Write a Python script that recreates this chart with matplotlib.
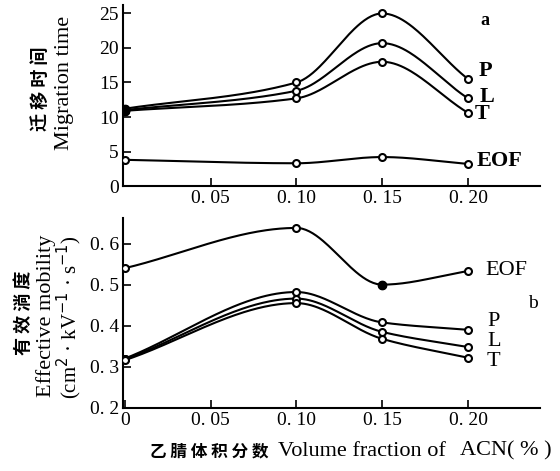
import matplotlib.pyplot as plt
import numpy as np

plt.rcParams['font.family'] = ['Liberation Serif', 'Noto Sans CJK SC', 'DejaVu Serif']

# ACN volume fraction
acn = [0.0, 0.10, 0.15, 0.20]

# (a) migration time
time_P = [11.2, 15.0, 25.0, 15.5]
time_L = [11.0, 13.8, 20.7, 12.7]
time_T = [10.9, 12.7, 18.0, 10.6]
time_EOF = [3.8, 3.3, 4.2, 3.2]

# (b) effective mobility
mob_EOF = [0.54, 0.638, 0.50, 0.533]
mob_P = [0.32, 0.482, 0.408, 0.39]
mob_L = [0.318, 0.466, 0.385, 0.348]
mob_T = [0.316, 0.455, 0.368, 0.322]

top_xticks = [0.05, 0.10, 0.15, 0.20]
top_xlabels = ['0. 05', '0. 10', '0. 15', '0. 20']
top_yticks = [0, 5, 10, 15, 20, 25]
bot_xticks = [0, 0.05, 0.10, 0.15, 0.20]
bot_xlabels = ['0', '0. 05', '0. 10', '0. 15', '0. 20']
bot_yticks = [0.2, 0.3, 0.4, 0.5, 0.6]
bot_ylabels = ['0. 2', '0. 3', '0. 4', '0. 5', '0. 6']


def pchip(x, y, n=200):
    # shape preserving cubic through the points, only for drawing the smooth line
    x = np.asarray(x, float)
    y = np.asarray(y, float)
    h = np.diff(x)
    d = np.diff(y) / h
    m = np.zeros_like(y)
    for k in range(1, len(x) - 1):
        if d[k - 1] * d[k] > 0:
            w1 = 2 * h[k] + h[k - 1]
            w2 = h[k] + 2 * h[k - 1]
            m[k] = (w1 + w2) / (w1 / d[k - 1] + w2 / d[k])
    m[0] = d[0]
    m[-1] = d[-1]
    xs = np.linspace(x[0], x[-1], n)
    ys = np.empty_like(xs)
    for i, xv in enumerate(xs):
        k = min(np.searchsorted(x, xv, side='right') - 1, len(x) - 2)
        t = (xv - x[k]) / h[k]
        h00 = 2 * t**3 - 3 * t**2 + 1
        h10 = t**3 - 2 * t**2 + t
        h01 = -2 * t**3 + 3 * t**2
        h11 = t**3 - t**2
        ys[i] = h00 * y[k] + h10 * h[k] * m[k] + h01 * y[k + 1] + h11 * h[k] * m[k + 1]
    return xs, ys


fig = plt.figure(figsize=(5.6, 4.71), dpi=100)
ax1 = fig.add_axes([0.2196, 0.605, 0.745, 0.384])
ax2 = fig.add_axes([0.2196, 0.134, 0.745, 0.403])

mk = dict(marker='o', ms=5, mfc='white', mec='black', mew=1.5, ls='none', zorder=3)

def draw(ax, y, filled=()):
    xs, ys = pchip(acn, y)
    ax.plot(xs, ys, color='black', lw=1.5, zorder=2)
    ax.plot(acn, y, **mk)
    for i in filled:
        ax.plot(acn[i], y[i], marker='o', ms=6, color='black', ls='none', zorder=4)

for s in (time_P, time_L, time_T):
    draw(ax1, s, filled=(0,))
draw(ax1, time_EOF)

draw(ax2, mob_EOF, filled=(2,))
draw(ax2, mob_P)
draw(ax2, mob_L)
draw(ax2, mob_T)

for ax in (ax1, ax2):
    ax.spines['top'].set_visible(False)
    ax.spines['right'].set_visible(False)
    ax.spines['left'].set_linewidth(1.5)
    ax.spines['bottom'].set_linewidth(1.5)
    ax.tick_params(direction='in', length=6, width=1.2, labelsize=14, pad=3)
    ax.set_xlim(-0.001, 0.242)

ax1.set_ylim(0, 26.2)
ax1.set_xticks(top_xticks)
ax1.set_xticklabels(top_xlabels)
ax1.set_yticks(top_yticks)

ax2.set_ylim(0.2, 0.662)
ax2.set_xticks(bot_xticks)
ax2.set_xticklabels(bot_xlabels)
ax2.set_yticks(bot_yticks)
ax2.set_yticklabels(bot_ylabels)

# series labels
lab = dict(fontsize=16, fontweight='bold', va='center', ha='left')
ax1.text(0.206, 16.6, 'P', **lab)
ax1.text(0.207, 12.9, 'L', **lab)
ax1.text(0.204, 10.4, 'T', **lab)
ax1.text(0.205, 3.6, 'EOF', **lab)
ax1.text(0.207, 24.0, 'a', fontsize=13, fontweight='bold', ha='left', va='center')

lab2 = dict(fontsize=16, va='center', ha='left')
ax2.text(0.210, 0.535, 'EOF', **lab2)
ax2.text(0.211, 0.41, 'P', **lab2)
ax2.text(0.211, 0.362, 'L', **lab2)
ax2.text(0.211, 0.312, 'T', **lab2)
ax2.text(0.235, 0.455, 'b', fontsize=14, ha='left', va='center')

# y labels
cjk = ['Noto Sans CJK SC', 'DejaVu Sans']
fig.text(40 / 560, 1 - 89 / 471, '迁 移 时 间', rotation=90, ha='center', va='center',
         fontsize=13, fontweight='bold', family=cjk)
fig.text(64 / 560, 1 - 83 / 471, 'Migration time', rotation=90, ha='center', va='center',
         fontsize=16)
fig.text(23 / 560, 1 - 313 / 471, '有 效 淌 度', rotation=90, ha='center', va='center',
         fontsize=13, fontweight='bold', family=cjk)
fig.text(46 / 560, 1 - 316 / 471, 'Effective mobility', rotation=90, ha='center', va='center',
         fontsize=16)
fig.text(69 / 560, 1 - 317 / 471, '(cm$^2$ · kV$^{-1}$ · s$^{-1}$)', rotation=90,
         ha='center', va='center', fontsize=15)

# x label
fig.text(150 / 560, 1 - 451 / 471, '乙 腈 体 积 分 数', ha='left', va='center',
         fontsize=12, fontweight='bold', family=cjk)
fig.text(278 / 560, 1 - 451 / 471, 'Volume fraction of', ha='left', va='center',
         fontsize=16)
fig.text(460 / 560, 1 - 451 / 471, 'ACN( % )', ha='left', va='center',
         fontsize=16)

fig.savefig('out.png', dpi=100)
